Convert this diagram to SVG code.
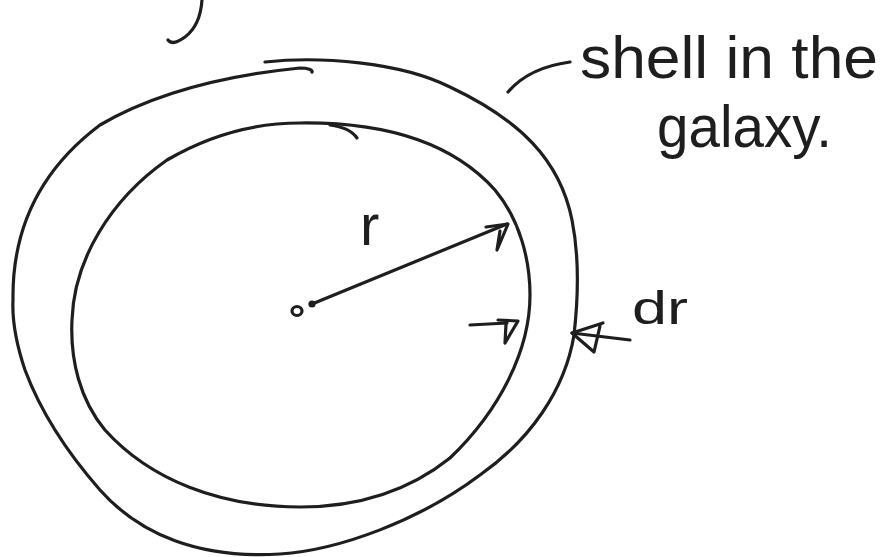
<svg xmlns="http://www.w3.org/2000/svg" width="885" height="557" viewBox="0 0 885 557">
<style>
.s{fill:none;stroke:#1e1e1e;stroke-width:3.2;stroke-linecap:round;stroke-linejoin:round}
.t{fill:#1e1e1e;font-family:"Liberation Sans","DejaVu Sans",sans-serif}
</style>
<rect width="885" height="557" fill="#fff"/>
<g id="outer-shell">
<path class="s" d="M265,62 C320,56 400,62 450,87 C520,120 560,160 572,220 C580,260 578,300 574,335 C565,390 530,440 480,475 C420,520 340,550 280,554 C200,559 140,535 100,490 C65,450 40,410 25,370 C15,340 12,320 13,300 C12,230 40,170 100,125 C160,90 230,75 300,68 C308,68 313,70 312,72"/>
</g>
<g id="inner-sphere">
<path class="s" d="M300,123 C380,122 450,140 495,190 C520,220 530,260 530,295 C530,350 500,410 450,458 C410,490 360,507 300,507 C220,507 150,480 105,430 C80,400 70,360 72,320 C74,260 110,200 167,160 C210,135 255,123 300,123 Z"/>
<path class="s" d="M330,125 C345,127 353,132 357,138"/>
</g>
<g id="top-fragment">
<path class="s" d="M202,0 C201,15 197,28 185,37 C178,42 172,45 168,40"/>
</g>
<g id="center">
<ellipse cx="297" cy="311" rx="5" ry="4.5" class="s" stroke-width="2.5"/>
<circle cx="312" cy="304" r="2" class="s"/>
</g>
<g id="labels">
<text class="t" x="580" y="78" font-size="60" textLength="298" lengthAdjust="spacingAndGlyphs">shell in the</text>
<text class="t" x="657" y="147" font-size="60" textLength="175" lengthAdjust="spacingAndGlyphs">galaxy.</text>
<text class="t" x="360" y="245" font-size="58">r</text>
<text class="t" x="632" y="324" font-size="46" textLength="56" lengthAdjust="spacingAndGlyphs">dr</text>
</g>
<g id="connectors">
<path class="s" d="M508,92 C520,78 540,66 570,62"/>
<path class="s" d="M312,304 L507,224"/>
<path class="s" d="M486,227 L508,224 L497,250 L500,231"/>
<path class="s" d="M470,325 L507,323"/>
<path class="s" d="M498,320 L518,321 L505,343 L506,324"/>
<path class="s" d="M630,340 L572,333"/>
<path class="s" d="M603,323 L572,333 L594,352 L600,326"/>
</g>
</svg>
